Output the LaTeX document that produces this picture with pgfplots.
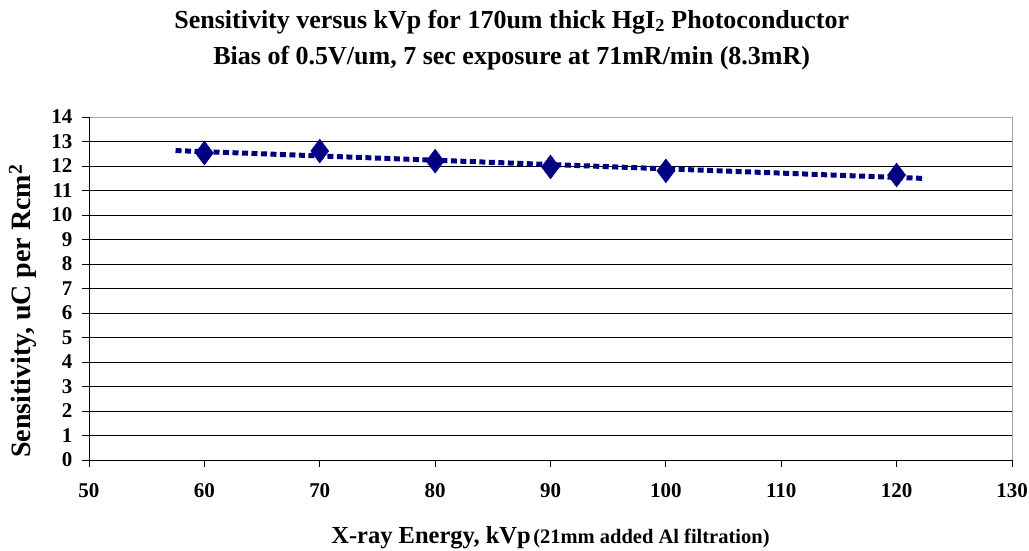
\documentclass[border=0pt]{standalone}
\usepackage{fontspec}
\setmainfont{Liberation Serif}
\usepackage{pgfplots}
\pgfplotsset{compat=1.18}
\definecolor{navy}{RGB}{0,0,128}
\begin{document}
\begin{tikzpicture}
\useasboundingbox (-89pt,-90pt) rectangle (940pt,460pt);
\begin{axis}[
  scale only axis,
  width=923pt, height=343pt,
  at={(0pt,0pt)}, anchor=south west,
  xmin=50, xmax=130, ymin=0, ymax=14,
  xtick={50,60,...,130}, ytick={0,1,...,14},
  tick align=outside, tick pos=left,
  major tick length=7pt,
  tick style={black, line width=0.8pt},
  ymajorgrids, grid style={black, line width=0.6pt},
  axis line style={draw=none},
  /pgf/number format/assume math mode=true,
  ticklabel style={font=\fontsize{21}{24}\selectfont\bfseries},
  xticklabel style={yshift=-13pt},
  yticklabel style={xshift=-6pt},
  title={Sensitivity versus kVp for 170um thick HgI\textsubscript{2} Photoconductor\\Bias of 0.5V/um, 7 sec exposure at 71mR/min (8.3mR)},
  title style={at={(0.458,1)}, anchor=base, yshift=47pt, align=center, font=\fontsize{26}{36}\selectfont\bfseries},
  xlabel={{\fontsize{24.5}{28}\selectfont X-ray Energy, kVp}\ {\fontsize{20.5}{24}\selectfont (21mm added Al filtration)}},
  xlabel style={at={(0.5,0)}, anchor=base, yshift=-83pt, font=\bfseries},
  ylabel={Sensitivity, uC per Rcm\textsuperscript{2}},
  ylabel style={at={(0,0.434)}, anchor=center, yshift=66pt, font=\fontsize{28}{32}\selectfont\bfseries},
  clip=false,
]
% plot area border
\draw[gray!70, line width=0.8pt] (axis cs:50,14) -- (axis cs:130,14) -- (axis cs:130,0);
\draw[black, line width=0.9pt] (axis cs:50,14) -- (axis cs:50,0) -- (axis cs:130,0);
\addplot[navy, mark=diamond*, mark size=12pt, only marks] coordinates {
  (60,12.53) (70,12.61) (80,12.2) (90,11.96) (100,11.8) (120,11.63)
};
\addplot[navy, line width=5pt, dash pattern=on 6pt off 3.5pt, no marks] coordinates {
  (57.5,12.63) (122.5,11.49)
};
\end{axis}
\end{tikzpicture}
\end{document}
